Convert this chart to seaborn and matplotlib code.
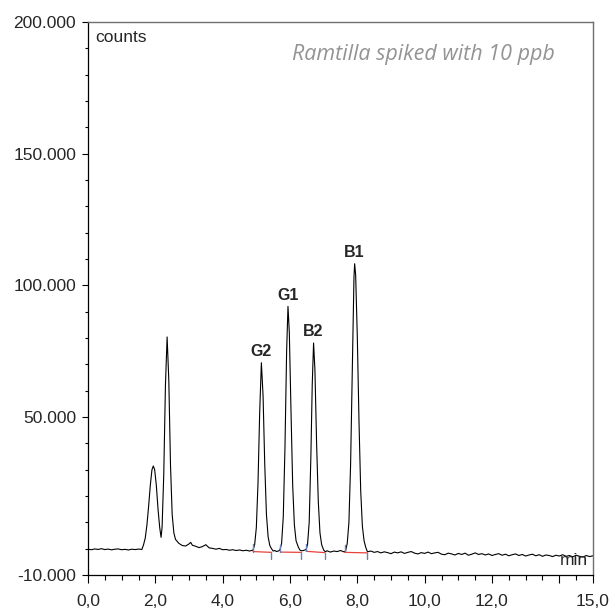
import matplotlib
matplotlib.use("Agg")
import matplotlib.pyplot as plt
import matplotlib.ticker as mticker
import seaborn as sns
import pandas as pd

# chromatogram trace (time in min, signal in counts)
time = [0.0, 0.1, 0.2, 0.3, 0.4, 0.5, 0.6, 0.7, 0.8, 0.9, 1.0, 1.1, 1.2, 1.3, 1.4, 1.5, 1.6,
        1.65, 1.70, 1.75, 1.80, 1.85, 1.90, 1.94, 1.98, 2.03, 2.08, 2.13, 2.17,
        2.20, 2.25, 2.30, 2.35, 2.40, 2.45, 2.50, 2.55, 2.60, 2.70, 2.80, 2.90, 3.00, 3.05,
        3.10, 3.2, 3.3, 3.4, 3.5, 3.6, 3.7, 3.8, 3.9, 4.0, 4.1, 4.2, 4.3, 4.4, 4.5, 4.6,
        4.7, 4.8, 4.85,
        4.90, 4.95, 5.00, 5.05, 5.10, 5.15, 5.20, 5.25, 5.30, 5.35, 5.40, 5.45, 5.50, 5.55, 5.60,
        5.65, 5.70, 5.75, 5.80, 5.85, 5.90, 5.94, 5.98, 6.03, 6.08, 6.13, 6.18, 6.25, 6.30, 6.35,
        6.40, 6.48, 6.52, 6.57, 6.62, 6.66, 6.70, 6.74, 6.79, 6.84, 6.89, 6.94, 7.00, 7.05,
        7.1, 7.2, 7.3, 7.4, 7.5, 7.6,
        7.65, 7.70, 7.75, 7.80, 7.85, 7.90, 7.92, 7.95, 8.00, 8.05, 8.10, 8.15, 8.20, 8.25, 8.30,
        8.4, 8.5, 8.6, 8.7, 8.8, 8.9,
        9.0, 9.1, 9.2, 9.3, 9.4, 9.5, 9.6, 9.7, 9.8, 9.9,
        10.0, 10.1, 10.2, 10.3, 10.4, 10.5, 10.6, 10.7, 10.8, 10.9,
        11.0, 11.1, 11.2, 11.3, 11.4, 11.5, 11.6, 11.7, 11.8, 11.9,
        12.0, 12.1, 12.2, 12.3, 12.4, 12.5, 12.6, 12.7, 12.8, 12.9,
        13.0, 13.1, 13.2, 13.3, 13.4, 13.5, 13.6, 13.7, 13.8, 13.9,
        14.0, 14.1, 14.2, 14.3, 14.4, 14.5, 14.6, 14.7, 14.8, 14.9, 15.0]
counts = [-200, -400, -100, -300, 0, -350, -150, -450, -200, -100, -400, -250, -500, -200, -350, -150, -300,
          1500, 4000, 9000, 16000, 24000, 30000, 31400, 30000, 24000, 15000, 8000, 4300,
          8000, 28000, 62000, 80400, 64000, 32000, 13000, 6000, 3500, 2000, 1200, 1000, 1800, 2400,
          1300, 900, 400, 800, 1500, 300, 100, -200, 100, -400, -300, -600, -400, -700, -500, -800,
          -600, -900, -700,
          -600, 1500, 8000, 25000, 52000, 70600, 58000, 32000, 13000, 4500, 1200, 0, -900, -700, -1100,
          -900, -500, 2000, 12000, 38000, 75000, 92000, 82000, 52000, 24000, 9000, 3000, 500, -600, -800,
          -700, -300, 1500, 10000, 35000, 62000, 78100, 68000, 40000, 18000, 6000, 1500, -500, -1200,
          -800, -1300, -900, -1100, -700, -1200,
          -900, 2000, 10000, 32000, 68000, 103000, 108200, 104000, 80000, 48000, 22000, 8500, 3000, 500, -1200,
          -900, -1400, -1100, -1600, -1200, -1500,
          -1900, -1300, -1600, -1200, -1800, -1400, -1100, -1700, -2000, -1500,
          -1800, -1300, -1900, -1600, -1400, -2100, -2300, -1700, -2000, -2400,
          -1800, -2200, -1700, -2500, -2100, -1600, -2200, -1900, -2400, -2000,
          -2600, -2200, -1900, -2500, -2100, -2700, -2300, -2000, -2600, -2200,
          -2800, -2400, -2100, -2700, -2300, -2900, -2400, -2600, -3000, -2500,
          -2800, -2300, -2900, -2600, -3100, -2500, -2900, -3200, -2600, -3000, -2700]

# peak labels
peak_names = ["G2", "G1", "B2", "B1"]
peak_time = [5.15, 5.94, 6.70, 7.92]
peak_height = [70600, 92000, 78100, 108200]

# integration limits (start, end) and baseline levels
int_start = [4.90, 5.71, 6.48, 7.62]
int_end = [5.45, 6.33, 7.03, 8.30]
base_start = [-1100, -1300, -1000, -1400]
base_end = [-1400, -1400, -1500, -1600]

sns.set_theme(style="ticks")
plt.rcParams["font.family"] = ["Liberation Sans", "DejaVu Sans"]

fig = plt.figure(figsize=(6.13, 6.09), dpi=100)
ax = fig.add_axes([88 / 613, 1 - 575 / 609, (593 - 88) / 613, (575 - 22) / 609])

df = pd.DataFrame({"time": time, "counts": counts})
sns.lineplot(data=df, x="time", y="counts", color="black", lw=0.8, ax=ax)

# integration baselines and marks
for s, e, bs, be in zip(int_start, int_end, base_start, base_end):
    ax.plot([s, e], [bs, be], color="#e8423c", lw=0.9)
    ax.plot([s, s], [bs, bs + 2700], color="#6b80b8", lw=1.0)
    ax.plot([e, e], [be, be - 2500], color="#6b80b8", lw=1.0)

for name, t, h in zip(peak_names, peak_time, peak_height):
    ax.text(t, h + 2500, name, ha="center", va="baseline", fontsize=11.5, fontweight="bold")

ax.set_xlim(0, 15)
ax.set_ylim(-10000, 200000)
ax.set_xticks([0, 2, 4, 6, 8, 10, 12, 14, 15])
ax.xaxis.set_minor_locator(mticker.MultipleLocator(0.5))
ax.set_yticks([-10000, 50000, 100000, 150000, 200000])
ax.yaxis.set_minor_locator(mticker.MultipleLocator(10000))
ax.xaxis.set_major_formatter(mticker.FuncFormatter(
    lambda v, p: "" if abs(v - 14) < 1e-6 else f"{v:.1f}".replace(".", ",")))
ax.yaxis.set_major_formatter(mticker.FuncFormatter(
    lambda v, p: f"{v:,.0f}".replace(",", ".")))
ax.tick_params(axis="both", which="major", labelsize=12.5, color="black", width=0.8)
ax.tick_params(axis="y", which="major", length=4.5, pad=4)
ax.tick_params(axis="y", which="minor", length=2.3, width=0.8, color="black")
ax.tick_params(axis="x", which="major", length=6, pad=7.5)
ax.tick_params(axis="x", which="minor", length=3.3, width=0.8, color="black")
ax.set_xlabel("")
ax.set_ylabel("")

for side in ["left", "bottom"]:
    ax.spines[side].set_color("black")
    ax.spines[side].set_linewidth(0.9)
for side in ["top", "right"]:
    ax.spines[side].set_visible(True)
    ax.spines[side].set_color("#707070")
    ax.spines[side].set_linewidth(1.0)

ax.text(0.015, 0.985, "counts", transform=ax.transAxes, ha="left", va="top", fontsize=12.5)
ax.text(0.99, 0.012, "min", transform=ax.transAxes, ha="right", va="bottom", fontsize=12.5)
ax.text(0.925, 0.931, "Ramtilla spiked with 10 ppb", transform=ax.transAxes, ha="right",
        va="baseline", fontsize=15.5, style="italic", color="#939393", family="Open Sans")

fig.savefig("out.png", dpi=100)
